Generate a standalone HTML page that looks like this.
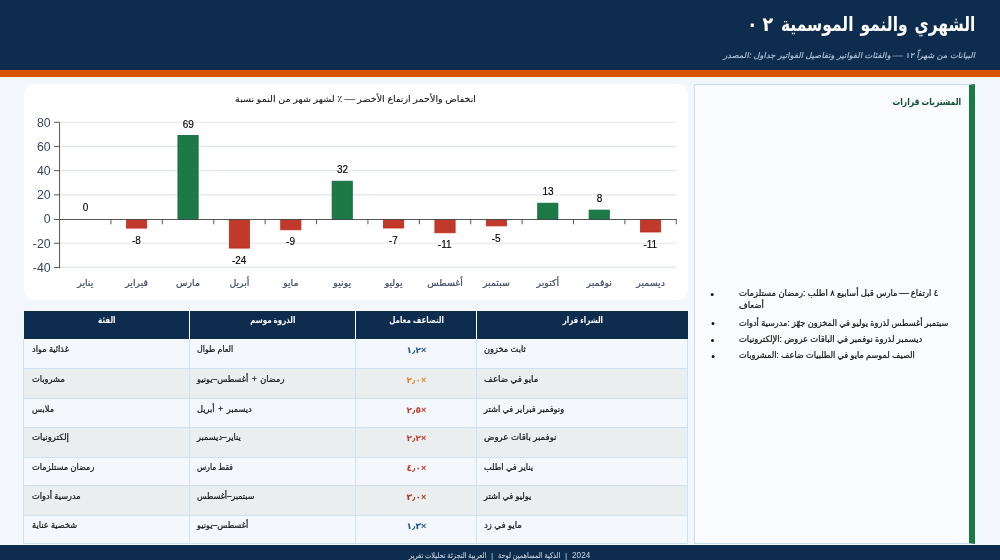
<!DOCTYPE html>
<html lang="ar">
<head>
<meta charset="utf-8">
<title>الموسمية والنمو الشهري</title>
<style>
*{box-sizing:border-box;margin:0;padding:0}
html,body{width:1000px;height:560px;overflow:hidden}
body{position:relative;background:#f3f6fb;color:#111;-webkit-text-stroke:.22px currentColor;
  font-family:"Liberation Sans","DejaVu Sans",sans-serif;font-size:8.67px;line-height:1.2}
.sx{display:inline-block;white-space:nowrap}
em{font-style:normal;display:inline-block}

/* header */
header{position:absolute;left:0;top:0;width:1000px;height:77px;background:#0d2c4e;border-bottom:7px solid #d85600}
header h1{position:absolute;right:24.7px;top:10px;font-size:20px;line-height:28px;font-weight:bold;color:#fff;white-space:nowrap;-webkit-text-stroke:0;
  word-spacing:3.4px;transform:scaleX(.774);transform-origin:100% 50%}
header p em{transform:scaleX(1.25);transform-origin:0 50%;margin:0 2.5px 0 1px}
header h1 .gap{display:inline-block;width:1.2px}
header h1 .num{display:inline-block;transform:scaleX(1.12);transform-origin:100% 50%;}
header p{position:absolute;right:25px;top:49.3px;font-size:7.9px;line-height:13px;font-style:normal;color:#b9cae2;white-space:nowrap;-webkit-text-stroke:.12px currentColor;
  transform:scaleX(1.062) skewX(-11deg);transform-origin:100% 70%}

/* chart card */
.card{position:absolute;left:24px;top:84px;width:664px;height:216px;background:#fff;border-radius:11px}
.card h3{position:absolute;left:0;top:8.4px;-webkit-text-stroke:.08px currentColor;width:664px;text-align:center;font-size:8.67px;line-height:14px;font-weight:normal;color:#111;white-space:nowrap}
.card h3 span{display:inline-block;transform:scaleX(1.1)}
.card h3 em,aside li em{transform:scaleX(1.12)}
.card svg{position:absolute;left:0;top:0;width:664px;height:216px;overflow:visible;-webkit-text-stroke:0}

/* table */
table{position:absolute;left:23px;top:311px;width:664.5px;border-collapse:collapse;table-layout:fixed;font-size:8.67px}
th{height:28.4px;background:#0d2c4e;color:#fff;font-weight:bold;-webkit-text-stroke:0;text-align:center;vertical-align:top;padding-top:4px;border-left:1px solid #fff}
th:first-child{border-left:0}
th .sx{transform:translateX(1.2px) scaleX(.82);transform-origin:50% 50%}
td{height:29.33px;vertical-align:top;padding:4.5px 8px 0 7.5px;text-align:left;border:1px solid #cfe0f0;border-top:0;white-space:nowrap}
tbody tr:nth-child(1) td{height:29.6px}
tbody tr:nth-child(2) td,tbody tr:nth-child(4) td,tbody tr:nth-child(6) td{height:29.7px}
tbody tr:nth-child(3) td{height:28.8px}
tbody tr:nth-child(5) td{height:28.4px}
tbody tr:nth-child(7) td{height:28.1px}
tr:nth-child(odd) td{background:#f4f8fc}
tr:nth-child(even) td{background:#eaeeef}
td .sx{transform:scaleX(.95);transform-origin:0 50%}
td u{text-decoration:none;margin:0 1.4px}
td.m{text-align:center;font-weight:bold;-webkit-text-stroke:0}
td.m .sx{transform:translate(1px,1px) scaleX(1.04);transform-origin:50% 50%}
.c-b{color:#1f4e8c}.c-o{color:#e67e22}.c-r{color:#c0392b}.c-d{color:#a93226}

/* side panel */
aside{position:absolute;left:694px;top:84px;width:281px;height:459.6px;background:#f9fbfe;border:1px solid #c9dcee;border-right:6px solid #1a7a45}
aside h2{position:absolute;right:8px;top:10.7px;font-size:9.33px;line-height:12px;font-weight:bold;color:#0f4a27;white-space:nowrap;-webkit-text-stroke:0;
  transform:scaleX(.815);transform-origin:100% 50%}
aside ul{position:absolute;left:44px;top:202px;width:215px;list-style:none}
aside li{position:relative;line-height:12px;margin-bottom:4.4px;transform:scaleX(.95);transform-origin:0 50%;width:226px}
aside li:first-child{margin-bottom:5.7px;transform:scaleX(.974)}
aside li:nth-child(2){transform:scaleX(.946)}
aside li:nth-child(3){transform:scaleX(.964)}
aside li:nth-child(4){transform:scaleX(.941)}
aside li::before{content:"";position:absolute;left:-29.5px;top:5.6px;width:3px;height:3px;border-radius:50%;background:#111}

/* footer */
footer{position:absolute;left:0;top:545px;width:1000px;height:15px;background:#0d2c4e;color:#c9d6e6;font-size:7.7px;line-height:21px;-webkit-text-stroke:.1px currentColor;text-align:center;white-space:nowrap}
footer i{font-style:normal;margin:0 3.6px}
footer b{display:inline-block;font-weight:normal;font-size:8.2px;transform:scaleX(1.16);transform-origin:100% 50%;margin-left:2.9px;-webkit-text-stroke:0}
footer .sx{transform:scaleX(.858);transform-origin:50% 50%}
</style>
</head>
<body>

<header>
  <h1><span class="num"><span style="margin-right:5.6px">٠</span>٢</span>&lrm;<span class="gap"></span> الموسمية&lrm; والنمو&lrm; الشهري&lrm;</h1>
  <p>المصدر&lrm;: جداول&lrm; الفواتير&lrm; وتفاصيل&lrm; الفواتير&lrm; والفئات&lrm;<em>—</em> ١٢&lrm; شهراً&lrm; من&lrm; البيانات&lrm;</p>
</header>

<section class="card">
  <h3><span>نسبة&lrm; النمو&lrm; من&lrm; شهر&lrm; لشهر&lrm; ٪&lrm; <em>—</em> الأخضر&lrm; ارتفاع&lrm; والأحمر&lrm; انخفاض&lrm;</span></h3>
  <svg viewBox="0 0 664 216" font-family="'Liberation Sans','DejaVu Sans',sans-serif">
    <g stroke="#e0e5ef" stroke-width="1.2">
      <line x1="35.55" x2="652.29" y1="38.25" y2="38.25"/>
      <line x1="35.55" x2="652.29" y1="62.45" y2="62.45"/>
      <line x1="35.55" x2="652.29" y1="86.65" y2="86.65"/>
      <line x1="35.55" x2="652.29" y1="110.85" y2="110.85"/>
      <line x1="35.55" x2="652.29" y1="159.25" y2="159.25"/>
      <line x1="35.55" x2="652.29" y1="183.45" y2="183.45"/>
    </g>
    <g>
      <rect x="102.54" y="135.5" width="20.2" height="8.6" fill="#c0392b" stroke="#bf2a1b" stroke-width=".8"/>
      <rect x="153.94" y="51.4" width="20.2" height="84.1" fill="#1b7a46" stroke="#136537" stroke-width=".8"/>
      <rect x="205.33" y="135.5" width="20.2" height="28.6" fill="#c0392b" stroke="#bf2a1b" stroke-width=".8"/>
      <rect x="256.73" y="135.5" width="20.2" height="10.3" fill="#c0392b" stroke="#bf2a1b" stroke-width=".8"/>
      <rect x="308.12" y="97.2" width="20.2" height="38.3" fill="#1b7a46" stroke="#136537" stroke-width=".8"/>
      <rect x="359.52" y="135.5" width="20.2" height="8.5" fill="#c0392b" stroke="#bf2a1b" stroke-width=".8"/>
      <rect x="410.91" y="135.5" width="20.2" height="13.3" fill="#c0392b" stroke="#bf2a1b" stroke-width=".8"/>
      <rect x="462.31" y="135.5" width="20.2" height="6.4" fill="#c0392b" stroke="#bf2a1b" stroke-width=".8"/>
      <rect x="513.7" y="119.2" width="20.2" height="16.3" fill="#1b7a46" stroke="#136537" stroke-width=".8"/>
      <rect x="565.1" y="126.1" width="20.2" height="9.4" fill="#1b7a46" stroke="#136537" stroke-width=".8"/>
      <rect x="616.49" y="135.5" width="20.2" height="12.5" fill="#c0392b" stroke="#bf2a1b" stroke-width=".8"/>
    </g>
    <g stroke="#444" stroke-width=".9" fill="none">
      <line x1="35.55" x2="652.79" y1="135.5" y2="135.5"/>
      <line x1="35.55" x2="35.55" y1="38.2" y2="184.4"/>
      <path d="M30.05 38.25H35.55M30.05 62.45H35.55M30.05 86.65H35.55M30.05 110.85H35.55M30.05 135.5H35.55M30.05 159.25H35.55M30.05 183.45H35.55"/>
      <path d="M86.94 135.5v4.8M138.34 135.5v4.8M189.74 135.5v4.8M241.13 135.5v4.8M292.53 135.5v4.8M343.92 135.5v4.8M395.32 135.5v4.8M446.71 135.5v4.8M498.11 135.5v4.8M549.5 135.5v4.8M600.89 135.5v4.8M652.29 135.5v4.8"/>
    </g>
    <g font-size="12.3" fill="#36455f" text-anchor="end">
      <text x="26.6" y="42.65">80</text>
      <text x="26.6" y="66.85">60</text>
      <text x="26.6" y="91.05">40</text>
      <text x="26.6" y="115.25">20</text>
      <text x="26.6" y="139.45">0</text>
      <text x="26.6" y="163.65">-20</text>
      <text x="26.6" y="187.85">-40</text>
    </g>
    <g font-size="10" fill="#000" stroke="#000" stroke-width=".14" text-anchor="middle">
      <text x="61.55" y="126.7">0</text>
      <text x="112.34" y="159.7">-8</text>
      <text x="164.34" y="43.5">69</text>
      <text x="215.13" y="179.7">-24</text>
      <text x="266.53" y="161.4">-9</text>
      <text x="318.52" y="89.3">32</text>
      <text x="369.32" y="159.6">-7</text>
      <text x="420.71" y="164.4">-11</text>
      <text x="472.11" y="157.5">-5</text>
      <text x="524.1" y="111.3">13</text>
      <text x="575.5" y="118.2">8</text>
      <text x="626.29" y="163.6">-11</text>
    </g>
    <g font-size="9.4" fill="#3f4c66" stroke="#3f4c66" stroke-width=".22" text-anchor="middle">
      <text x="61.25" y="202.2">يناير</text>
      <text x="112.64" y="202.2">فبراير</text>
      <text x="164.04" y="202.2">مارس</text>
      <text x="215.43" y="202.2">أبريل</text>
      <text x="266.83" y="202.2">مايو</text>
      <text x="318.22" y="202.2">يونيو</text>
      <text x="369.62" y="202.2">يوليو</text>
      <text x="421.01" y="202.2">أغسطس</text>
      <text x="472.41" y="202.2">سبتمبر</text>
      <text x="523.8" y="202.2">أكتوبر</text>
      <text x="575.2" y="202.2">نوفمبر</text>
      <text x="626.59" y="202.2">ديسمبر</text>
    </g>
  </svg>
</section>

<table>
  <colgroup><col style="width:165.5px"><col style="width:166px"><col style="width:121px"><col style="width:211.5px"></colgroup>
  <thead>
    <tr><th><span class="sx">الفئة</span></th><th><span class="sx">موسم&lrm; الذروة&lrm;</span></th><th><span class="sx">معامل&lrm; التضاعف&lrm;</span></th><th><span class="sx">قرار&lrm; الشراء&lrm;</span></th></tr>
  </thead>
  <tbody>
    <tr><td><span class="sx">مواد&lrm; غذائية&lrm;</span></td><td><span class="sx" style="transform:scaleX(0.912)">طوال&lrm; العام&lrm;</span></td><td class="m c-b"><span class="sx">١٫٢×</span></td><td><span class="sx">مخزون&lrm; ثابت&lrm;</span></td></tr>
    <tr><td><span class="sx">مشروبات</span></td><td><span class="sx">يونيو&lrm;–أغسطس&lrm; <u>+</u> رمضان&lrm;</span></td><td class="m c-o"><span class="sx">٢٫٠×</span></td><td><span class="sx" style="transform:scaleX(0.997)">ضاعف&lrm; في&lrm; مايو&lrm;</span></td></tr>
    <tr><td><span class="sx">ملابس</span></td><td><span class="sx">أبريل&lrm; <u>+</u> ديسمبر&lrm;</span></td><td class="m c-r"><span class="sx">٢٫٥×</span></td><td><span class="sx">اشتر&lrm; في&lrm; فبراير&lrm; ونوفمبر&lrm;</span></td></tr>
    <tr><td><span class="sx" style="transform:scaleX(0.993)">إلكترونيات</span></td><td><span class="sx">ديسمبر&lrm;–يناير&lrm;</span></td><td class="m c-r"><span class="sx">٢٫٢×</span></td><td><span class="sx" style="transform:scaleX(0.996)">عروض&lrm; باقات&lrm; نوفمبر&lrm;</span></td></tr>
    <tr><td><span class="sx">مستلزمات&lrm; رمضان&lrm;</span></td><td><span class="sx" style="transform:scaleX(0.874)">مارس&lrm; فقط&lrm;</span></td><td class="m c-r"><span class="sx">٤٫٠×</span></td><td><span class="sx">اطلب&lrm; في&lrm; يناير&lrm;</span></td></tr>
    <tr><td><span class="sx">أدوات&lrm; مدرسية&lrm;</span></td><td><span class="sx" style="transform:scaleX(0.917)">أغسطس&lrm;–سبتمبر&lrm;</span></td><td class="m c-d"><span class="sx">٣٫٠×</span></td><td><span class="sx">اشتر&lrm; في&lrm; يوليو&lrm;</span></td></tr>
    <tr><td><span class="sx">عناية&lrm; شخصية&lrm;</span></td><td><span class="sx">يونيو&lrm;–أغسطس&lrm;</span></td><td class="m c-b"><span class="sx">١٫٣×</span></td><td><span class="sx" style="transform:scaleX(0.988)">زد&lrm; في&lrm; مايو&lrm;</span></td></tr>
  </tbody>
</table>

<aside>
  <h2>قرارات&lrm; المشتريات&lrm;</h2>
  <ul>
    <li>مستلزمات&lrm; رمضان&lrm;: اطلب&lrm; ٨&lrm; أسابيع&lrm; قبل&lrm; مارس&lrm; <em>—</em> ارتفاع&lrm; ٤<br>أضعاف</li>
    <li>أدوات&lrm; مدرسية&lrm;: جهّز&lrm; المخزون&lrm; في&lrm; يوليو&lrm; لذروة&lrm; أغسطس&lrm; سبتمبر&lrm;</li>
    <li>الإلكترونيات&lrm;: عروض&lrm; الباقات&lrm; في&lrm; نوفمبر&lrm; لذروة&lrm; ديسمبر&lrm;</li>
    <li>المشروبات&lrm;: ضاعف&lrm; الطلبيات&lrm; في&lrm; مايو&lrm; لموسم&lrm; الصيف&lrm;</li>
  </ul>
</aside>

<footer><span class="sx">تقرير&lrm; تحليلات&lrm; التجزئة&lrm; العربية&lrm; <i>|</i> لوحة&lrm; المساهمين&lrm; الذكية&lrm; <i>|</i> <b>2024</b></span></footer>

</body>
</html>
